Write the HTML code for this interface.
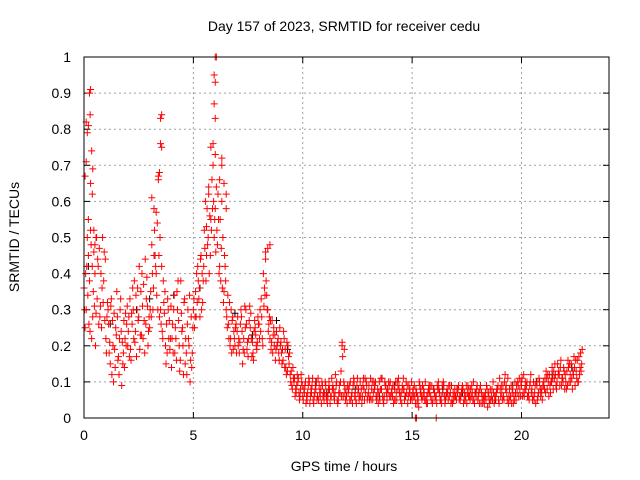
<!DOCTYPE html>
<html><head><meta charset="utf-8"><style>
body{margin:0;background:#fff;}
svg{display:block;font-family:"Liberation Sans",sans-serif;}
</style></head><body>
<svg id="chart" width="640" height="480">
<text x="344" y="31" font-size="14" text-anchor="middle">Day 157 of 2023, SRMTID for receiver cedu</text>
<text x="19" y="237" font-size="14" text-anchor="middle" transform="rotate(-90 19 237)">SRMTID / TECUs</text>
<text x="344" y="471" font-size="14" text-anchor="middle">GPS time / hours</text>
<g id="grid"></g>
<g id="ticks"></g>
<g id="marks"></g>
<rect x="84" y="57" width="525" height="361" fill="none" stroke="#000" stroke-width="1"/>
</svg>
<script>
const xTicks=[0,5,10,15,20];
const yTicks=[0,0.1,0.2,0.3,0.4,0.5,0.6,0.7,0.8,0.9,1];
const yTickLabels=["0","0.1","0.2","0.3","0.4","0.5","0.6","0.7","0.8","0.9","1"];
const stepHours=0.1;
const seriesA=[.36,.30,.45,.52,.28,.40,.33,.47,.25,.38,.22,.30,.15,.27,.19,.35,.12,.24,.18,.29,.20,.33,.26,.38,.17,.28,.35,.22,.44,.31,.25,.48,.58,.40,.66,.30,.22,.35,.18,.27,.14,.30,.22,.38,.16,.25,.33,.12,.20,.28,.30,.35,.42,.28,.40,.52,.45,.62,.55,.70,.58,.48,.42,.60,.35,.30,.26,.22,.28,.20,.24,.18,.28,.22,.30,.17,.25,.21,.27,.19,.26,.33,.40,.46,.30,.22,.27,.20,.24,.18,.21,.16,.19,.13,.18,.09,.10,.07,.11,.08,.06,.09,.05,.10,.07,.04,.08,.11,.06,.09,.07,.05,.10,.06,.08,.12,.04,.07,.20,.09,.06,.08,.05,.09,.07,.11,.06,.04,.08,.10,.07,.11,.05,.09,.06,.10,.08,.04,.09,.07,.10,.06,.08,.05,.09,.07,.11,.06,.04,.08,.05,.09,.07,.03,.08,.06,.10,.04,.07,.09,.08,.06,.10,.05,.07,.04,.08,.06,.09,.05,.06,.08,.05,.09,.07,.04,.08,.06,.10,.07,.05,.08,.06,.04,.09,.07,.05,.10,.06,.08,.11,.07,.05,.09,.04,.06,.08,.10,.07,.11,.09,.12,.08,.06,.10,.05,.07,.09,.11,.08,.10,.07,.12,.09,.14,.11,.08,.13,.16,.10,.12,.09,.15,.11,.17,.13,.10,.18];
const seriesB=[.25,.50,.38,.22,.46,.29,.42,.31,.50,.27,.28,.18,.33,.10,.25,.16,.30,.21,.14,.26,.28,.16,.30,.24,.36,.19,.40,.27,.33,.24,.35,.30,.45,.54,.28,.42,.32,.15,.30,.22,.26,.18,.35,.20,.29,.12,.22,.30,.10,.18,.25,.40,.33,.45,.38,.60,.48,.56,.66,.50,.64,.55,.38,.50,.42,.25,.32,.18,.24,.26,.20,.26,.15,.31,.19,.27,.22,.16,.23,.28,.30,.22,.36,.34,.26,.19,.23,.16,.21,.25,.15,.22,.12,.17,.10,.14,.06,.12,.05,.10,.08,.04,.09,.06,.11,.07,.05,.09,.04,.07,.09,.06,.04,.08,.05,.10,.07,.13,.06,.05,.09,.05,.07,.10,.04,.08,.06,.09,.11,.05,.05,.08,.10,.06,.04,.08,.06,.10,.05,.09,.07,.04,.10,.08,.06,.09,.05,.07,.09,.06,.08,.04,.06,.09,.05,.07,.04,.08,.06,.05,.05,.09,.07,.04,.09,.06,.05,.07,.04,.08,.08,.05,.07,.04,.06,.09,.05,.07,.04,.08,.07,.04,.05,.07,.03,.05,.08,.04,.07,.05,.06,.09,.12,.05,.08,.04,.06,.05,.09,.06,.06,.08,.10,.05,.07,.10,.04,.06,.08,.05,.08,.11,.06,.10,.08,.12,.15,.09,.11,.13,.08,.14,.10,.13,.09,.16,.12,.15];
const seriesC=[.30,.42,.26,.48,.35,.20,.44,.28,.36,.46,.18,.26,.31,.20,.14,.28,.22,.09,.27,.20,.24,.19,.36,.21,.30,.42,.23,.37,.26,.20,.30,.40,.52,.34,.45,.26,.38,.20,.33,.19,.22,.34,.16,.27,.38,.20,.15,.26,.34,.14,.33,.28,.38,.44,.32,.47,.58,.40,.52,.60,.46,.62,.55,.36,.45,.28,.22,.30,.19,.25,.28,.21,.24,.18,.26,.22,.29,.18,.25,.21,.22,.28,.31,.38,.24,.27,.18,.23,.20,.16,.18,.24,.14,.20,.12,.08,.11,.09,.07,.12,.05,.10,.07,.04,.09,.06,.10,.05,.08,.06,.10,.04,.08,.11,.06,.09,.05,.10,.17,.07,.04,.09,.06,.11,.05,.07,.10,.06,.05,.09,.09,.05,.07,.10,.08,.05,.11,.06,.07,.10,.06,.09,.05,.10,.07,.04,.08,.10,.06,.05,.07,.06,.04,.10,.06,.08,.05,.07,.09,.04,.07,.04,.08,.06,.10,.05,.07,.09,.05,.06,.05,.09,.06,.08,.05,.07,.06,.09,.05,.06,.06,.09,.04,.06,.08,.04,.06,.07,.05,.09,.08,.05,.10,.07,.06,.09,.04,.07,.10,.08,.11,.06,.09,.07,.12,.06,.09,.05,.10,.07,.09,.13,.10,.07,.11,.15,.10,.12,.09,.14,.10,.16,.12,.08,.14,.11,.17,.13];
const seriesD=[.40,.34,.24,.42,.31,.50,.26,.40,.32,.44,.32,.21,.12,.29,.23,.17,.33,.15,.22,.31,.17,.29,.22,.34,.27,.23,.31,.18,.39,.28,.28,.36,.42,.30,.50,.24,.29,.26,.22,.31,.18,.25,.30,.13,.24,.32,.18,.22,.16,.25,.28,.32,.36,.30,.42,.38,.50,.45,.58,.55,.52,.40,.47,.32,.38,.34,.20,.27,.22,.18,.22,.30,.19,.25,.21,.31,.17,.24,.20,.26,.24,.20,.34,.30,.28,.21,.25,.19,.22,.20,.19,.14,.21,.15,.13,.11,.08,.10,.06,.09,.07,.06,.11,.08,.05,.09,.06,.07,.10,.05,.06,.08,.06,.09,.07,.05,.09,.06,.10,.08,.07,.10,.04,.06,.09,.05,.08,.11,.07,.06,.06,.10,.08,.05,.07,.11,.05,.09,.08,.06,.08,.05,.07,.11,.05,.08,.06,.09,.07,.10,.06,.08,.05,.07,.09,.05,.06,.09,.05,.08,.06,.08,.05,.09,.06,.07,.09,.04,.07,.06,.07,.06,.08,.05,.09,.06,.08,.05,.07,.09,.04,.07,.06,.05,.06,.08,.05,.06,.08,.04,.09,.06,.08,.11,.05,.07,.05,.09,.06,.10,.07,.10,.06,.09,.08,.05,.10,.07,.06,.09,.11,.08,.12,.10,.13,.09,.12,.14,.11,.08,.13,.10,.15,.12,.16,.10,.14,.19];
const spikeTimes=[0.1,0.15,0.2,0.25,0.3,0.28,0.35,0.4,0.3,0.38,0.05,0.1,0.45,0.5,0.55,0.2,3.1,3.3,3.4,3.45,3.5,3.55,3.5,3.55,3.2,5.8,5.9,6.0,5.95,6.0,6.05,6.0,5.95,6.0,6.3,6.3,6.4,6.5,6.5,5.7,5.6,6.2,8.4,8.5,8.3,11.8,11.9,15.15,15.2,16.1];
const spikeValues=[.82,.79,.81,.90,.91,.84,.74,.69,.65,.62,.67,.71,.52,.48,.50,.55,.61,.57,.67,.68,.76,.75,.83,.84,.45,.75,.76,.73,.95,1.0,1.0,.93,.87,.83,.72,.70,.65,.62,.58,.64,.53,.66,.47,.48,.44,.21,.19,0.0,0.0,0.0];
const blackTimes=[0.2,1.2,2.4,4.1,6.9,7.7,9.3,10.6,12.4,14.2,17.3,19.6,21.4,22.3,3.0,5.3,8.8,11.1,13.5,16.4,18.8,20.7];
const blackValues=[.42,.26,.30,.34,.29,.23,.19,.10,.08,.09,.07,.09,.12,.14,.33,.36,.27,.07,.06,.08,.05,.10];

const X0=84,X1=609,Y0=418,Y1=57;
const xs=h=>X0+(h/24)*(X1-X0);
const ys=v=>Y0-(v/1)*(Y0-Y1);
const NS="http://www.w3.org/2000/svg";
const grid=document.getElementById('grid'),ticks=document.getElementById('ticks'),marks=document.getElementById('marks');
function mk(tag,attrs,parent){const e=document.createElementNS(NS,tag);for(const k in attrs)e.setAttribute(k,attrs[k]);parent.appendChild(e);return e;}
xTicks.forEach(t=>{const x=xs(t);
 if(t>0){const g=mk('line',{x1:x,x2:x,y1:Y1,y2:Y0,stroke:'#a0a0a0','stroke-dasharray':'2,3'},grid);
 
 }
 const a=mk('line',{x1:x,x2:x,y1:Y0,y2:Y0-6,stroke:'#000'},ticks);
 
 
 const b=mk('line',{x1:x,x2:x,y1:Y1,y2:Y1+6,stroke:'#000'},ticks);
 
 
 const l=mk('text',{x:x,y:Y0+22,'font-size':14,'text-anchor':'middle'},ticks);l.textContent=String(t);
 
 
});
yTicks.forEach((t,i)=>{const y=ys(t);
 if(t>0&&t<1){const g=mk('line',{x1:X0,x2:X1,y1:y,y2:y,stroke:'#a0a0a0','stroke-dasharray':'2,3'},grid);
 
 }
 const a=mk('line',{x1:X0,x2:X0+6,y1:y,y2:y,stroke:'#000'},ticks);
 
 
 const b=mk('line',{x1:X1,x2:X1-6,y1:y,y2:y,stroke:'#000'},ticks);
 
 
 const l=mk('text',{x:X0-13,y:y+5,'font-size':14,'text-anchor':'end'},ticks);l.textContent=yTickLabels[i];
 
 
});
function plus(h,v,color,name){const x=xs(h),y=ys(v);
 const p=mk('path',{d:`M${x-3.5},${y}H${x+3.5}M${x},${y-3.5}V${y+3.5}`,stroke:color,'stroke-width':1,fill:'none'},marks);
 
 }
blackTimes.forEach((t,i)=>plus(t,blackValues[i],'#000','black-point'));
seriesA.forEach((v,i)=>plus(i*stepHours,v,'#f00','point-a'));
seriesB.forEach((v,i)=>plus(i*stepHours+stepHours/2,v,'#f00','point-b'));
seriesC.forEach((v,i)=>plus(i*stepHours+stepHours/4,v,'#f00','point-c'));
seriesD.forEach((v,i)=>plus(i*stepHours+3*stepHours/4,v,'#f00','point-d'));
spikeTimes.forEach((t,i)=>plus(t,spikeValues[i],'#f00','spike-point'));
</script>
</body></html>
